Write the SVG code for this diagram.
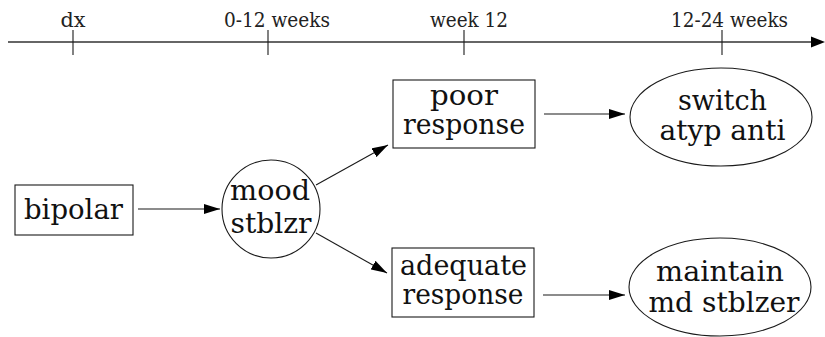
<svg xmlns="http://www.w3.org/2000/svg" width="825" height="337" viewBox="0 0 825 337">
  <style>
    .bg { fill: #ffffff; }
    .shape { fill: none; stroke: #1a1a1a; stroke-width: 1.1; }
    .edge { fill: none; stroke: #1a1a1a; stroke-width: 1.1; marker-end: url(#arrow); }
    .axis { fill: none; stroke: #333; stroke-width: 1.4; }
    .tick { fill: none; stroke: #1a1a1a; stroke-width: 1.1; }
    .lbl { font-family: 'DejaVu Serif', serif; font-size: 27px; fill: #111; text-anchor: middle; }
    .time { font-family: 'DejaVu Serif', serif; font-size: 20px; fill: #222; text-anchor: middle; }
  </style>
  <defs>
    <marker id="arrow" markerWidth="16" markerHeight="11" refX="16" refY="5.5" orient="auto" markerUnits="userSpaceOnUse">
      <path d="M0,0.5 L16,5.5 L0,10.5 Z" fill="#000"/>
    </marker>
  </defs>
  <rect class="bg" width="825" height="337"/>

  <!-- time axis -->
  <g id="timeline">
    <line class="axis" x1="8" y1="42" x2="812" y2="42"/>
    <path d="M811,36.5 L825,42 L811,47.5 Z" fill="#000"/>
    <line class="tick" x1="73" y1="30" x2="73" y2="55"/>
    <line class="tick" x1="268" y1="30" x2="268" y2="55"/>
    <line class="tick" x1="464" y1="30" x2="464" y2="55"/>
    <line class="tick" x1="722" y1="30" x2="722" y2="55"/>
    <text class="time" x="73" y="27" textLength="25" lengthAdjust="spacingAndGlyphs">dx</text>
    <text class="time" x="277" y="27" textLength="106" lengthAdjust="spacingAndGlyphs">0-12 weeks</text>
    <text class="time" x="469" y="27" textLength="78" lengthAdjust="spacingAndGlyphs">week 12</text>
    <text class="time" x="729.5" y="27" textLength="117" lengthAdjust="spacingAndGlyphs">12-24 weeks</text>
  </g>

  <!-- connectors -->
  <g id="edges">
    <line class="edge" x1="138" y1="209" x2="220" y2="209"/>
    <line class="edge" x1="316" y1="185" x2="388" y2="145"/>
    <line class="edge" x1="316" y1="233" x2="387" y2="273"/>
    <line class="edge" x1="544" y1="114" x2="625" y2="114"/>
    <line class="edge" x1="543" y1="295" x2="625" y2="295"/>
  </g>

  <g id="bipolar">
    <rect class="shape" x="15" y="185" width="118" height="50"/>
    <text class="lbl" x="73.5" y="219" textLength="99" lengthAdjust="spacingAndGlyphs">bipolar</text>
  </g>

  <g id="mood-stabilizer">
    <circle class="shape" cx="271" cy="209" r="49"/>
    <text class="lbl" x="270" y="200" textLength="80" lengthAdjust="spacingAndGlyphs">mood</text>
    <text class="lbl" x="271" y="233" textLength="81" lengthAdjust="spacingAndGlyphs">stblzr</text>
  </g>

  <g id="poor-response">
    <rect class="shape" x="393" y="80" width="142" height="68"/>
    <text class="lbl" x="464" y="105" textLength="68" lengthAdjust="spacingAndGlyphs">poor</text>
    <text class="lbl" x="464" y="134" textLength="122" lengthAdjust="spacingAndGlyphs">response</text>
  </g>

  <g id="adequate-response">
    <rect class="shape" x="392" y="248" width="142" height="69"/>
    <text class="lbl" x="463.5" y="275" textLength="127" lengthAdjust="spacingAndGlyphs">adequate</text>
    <text class="lbl" x="463" y="304" textLength="121" lengthAdjust="spacingAndGlyphs">response</text>
  </g>

  <g id="switch-atypical">
    <ellipse class="shape" cx="721" cy="117" rx="91" ry="49"/>
    <text class="lbl" x="722.5" y="110" textLength="89" lengthAdjust="spacingAndGlyphs">switch</text>
    <text class="lbl" x="722.5" y="140" textLength="126" lengthAdjust="spacingAndGlyphs">atyp anti</text>
  </g>

  <g id="maintain-stabilizer">
    <ellipse class="shape" cx="720" cy="287" rx="91" ry="49"/>
    <text class="lbl" x="720" y="281" textLength="128" lengthAdjust="spacingAndGlyphs">maintain</text>
    <text class="lbl" x="724" y="312" textLength="151" lengthAdjust="spacingAndGlyphs">md stblzer</text>
  </g>
</svg>
